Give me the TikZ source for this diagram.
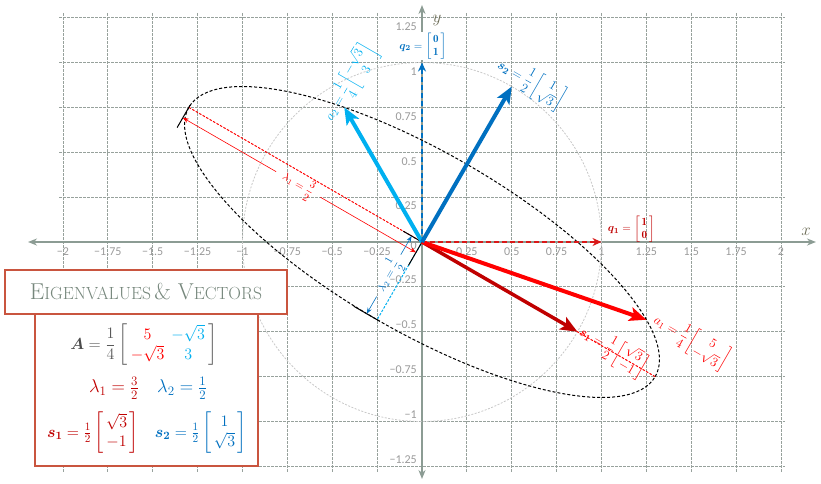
\RequirePackage{fix-cm}
\documentclass[tikz,border=0pt]{standalone}
\usepackage{amsmath}
\usepackage{bm}
\usepackage{fontspec}
\newfontfamily\tickfont{Carlito}
\usetikzlibrary{arrows.meta,calc}
\definecolor{cred}{HTML}{FF0000}
\definecolor{cqred}{HTML}{D91818}
\definecolor{cdred}{HTML}{C00000}
\definecolor{cblue}{HTML}{0070C0}
\definecolor{clblue}{HTML}{00B0F0}
\definecolor{caxis}{HTML}{8C9C94}
\definecolor{cgrid}{HTML}{97A19C}
\definecolor{ctick}{HTML}{9A9A9A}
\definecolor{ccirc}{HTML}{C8C8C8}
\definecolor{cborder}{HTML}{C9553F}
\definecolor{ctitle}{HTML}{76877C}
\definecolor{cgraytxt}{HTML}{595959}
\definecolor{caxlbl}{HTML}{6B6B55}
\newcommand{\cv}[2]{\left[\begin{array}{@{\,}c@{\,}}#1\\#2\end{array}\right]}
\newcommand{\tbigcap}[1]{{\fontsize{23}{26}\selectfont #1}}
\newcommand{\tsmcap}[1]{{\fontsize{17.6}{20}\selectfont #1}}
\tikzset{
 gridline/.style={cgrid, line width=0.9pt, dash pattern=on 2.5pt off 1.5pt},
 axisline/.style={caxis, line width=2pt, {Stealth[length=9pt,width=7pt]}-{Stealth[length=9pt,width=7pt]}},
 ticklbl/.style={text=ctick, font=\tickfont\fontsize{12}{14}\selectfont, inner sep=1pt},
 unitcirc/.style={ccirc, line width=0.8pt, dash pattern=on 2pt off 1.5pt},
 ellip/.style={black, line width=1pt, dash pattern=on 3pt off 2pt},
 axred/.style={cred, line width=1pt, dash pattern=on 2.5pt off 1.5pt},
 axblue/.style={clblue, line width=1pt, dash pattern=on 2.5pt off 1.5pt},
 dimred/.style={cred, line width=0.6pt, -{Stealth[length=6pt,width=4.5pt]}},
 dimblue/.style={cblue, line width=0.6pt, -{Stealth[length=6pt,width=4.5pt]}},
 extline/.style={black, line width=1pt},
 vec/.style={line width=4pt, -{Stealth[length=17pt,width=14pt,inset=4pt]}},
 qvec/.style={line width=2pt, dash pattern=on 5pt off 3pt, -{Stealth[length=9pt,width=8pt]}},
 vlbl/.style={font=\fontsize{13}{15}\selectfont, inner sep=0pt},
 dimlbl/.style={font=\fontsize{11}{13}\selectfont, inner sep=0pt},
 infobox/.style={draw=cborder, line width=2pt, fill=white, inner sep=0pt},
 boxtxt/.style={font=\fontsize{16}{19}\selectfont, inner sep=0pt},
}
\begin{document}
\begin{tikzpicture}[x=179.5pt,y=179.5pt]
\useasboundingbox (-422pt,-241pt) rectangle (399pt,242pt);
% grid
\foreach \i in {-8,...,8} \draw[gridline] (\i/4,-1.28) -- (\i/4,1.28);
\foreach \j in {-5,...,5} \draw[gridline] (-2.02,\j/4) -- (2.02,\j/4);
% axes
\coordinate (O) at (0,0);
\coordinate (XL) at (-394pt,0); \coordinate (XR) at (394pt,0);
\coordinate (YB) at (0,-237pt); \coordinate (YT) at (0,237pt);
\draw[axisline] (XL) -- (XR);
\draw[axisline] (YB) -- (YT);
\node[text=caxlbl, font=\fontsize{17}{20}\selectfont] (xlbl) at (384pt,10pt) {$x$};
\node[text=caxlbl, font=\fontsize{17}{20}\selectfont] (ylbl) at (15pt,222pt) {$y$};
% tick labels
\foreach \v/\t [count=\k] in {-2/−2,-1.75/−1.75,-1.5/−1.5,-1.25/−1.25,-1/−1,-0.75/−0.75,-0.5/−0.5,-0.25/−0.25,0.25/0.25,0.5/0.5,0.75/0.75,1/1,1.25/1.25,1.5/1.5,1.75/1.75,2/2}
  \node[ticklbl, anchor=north] (tx\k) at ([yshift=-5pt]\v,0) {\t};
\foreach \v/\t [count=\k] in {0.25/0.25,0.5/0.5,0.75/0.75,1/1,1.25/1.25}
  \node[ticklbl, anchor=east] (typ\k) at ([xshift=-4pt,yshift=-9pt]0,\v) {\t};
\foreach \v/\t [count=\k] in {-0.25/−0.25,-0.5/−0.5,-0.75/−0.75,-1/−1,-1.25/−1.25}
  \node[ticklbl, anchor=east] (tyn\k) at ([xshift=-4pt,yshift=7pt]0,\v) {\t};
\node[ticklbl, anchor=east] (t0) at ([xshift=-4pt,yshift=-4pt]0,0) {0};
% circle and ellipse
\draw[unitcirc] (O) circle [radius=1];
\draw[ellip, rotate=-30] (O) ellipse [x radius=1.5, y radius=0.5];
% principal axes
\coordinate (M1) at (150:1.5); \coordinate (M2) at (-30:1.5);
\coordinate (N1) at (60:0.5); \coordinate (N2) at (240:0.5);
\draw[axred] (M1) -- (M2);
\draw[axblue] (N1) -- (N2);
% extension lines
\coordinate (E1a) at ($(M1)+(60:0.015)$); \coordinate (E1b) at ($(M1)+(240:0.13)$);
\coordinate (E2b) at ($(O)+(240:0.15)$);
\coordinate (E3b) at ($(O)+(150:0.12)$);
\coordinate (E4a) at ($(N2)+(330:0.015)$); \coordinate (E4b) at ($(N2)+(150:0.15)$);
\draw[extline] (E1a) -- (E1b);
\draw[extline] (O) -- (E2b);
\draw[extline] (O) -- (E3b);
\draw[extline] (E4a) -- (E4b);
% dimension lambda1
\coordinate (P1) at ($(M1)+(240:0.067)$);
\coordinate (P2) at ($(O)+(240:0.067)$);
\coordinate (G1) at ($(P1)!0.40!(P2)$); \coordinate (G2) at ($(P1)!0.59!(P2)$);
\draw[dimred] (G1) -- (P1);
\draw[dimred] (G2) -- (P2);
\node[dimlbl, text=cred, rotate=-30] (l1) at ($(P1)!0.495!(P2)$) {$\lambda_1=\dfrac{3}{2}$};
% dimension lambda2
\coordinate (R1) at ($(O)+(150:0.067)$);
\coordinate (R2) at ($(N2)+(150:0.067)$);
\coordinate (H1) at ($(R1)!0.24!(R2)$); \coordinate (H2) at ($(R1)!0.78!(R2)$);
\draw[dimblue] (H1) -- (R1);
\draw[dimblue] (H2) -- (R2);
\node[dimlbl, text=cblue, rotate=60] (l2) at ($(R1)!0.51!(R2)$) {$\lambda_2=\dfrac{1}{2}$};
% vectors
\coordinate (Q1) at (1,0); \coordinate (Q2) at (0,1);
\coordinate (S1) at (-30:1); \coordinate (S2) at (60:1);
\coordinate (A1) at (1.25,-0.43301); \coordinate (A2) at (-0.43301,0.75);
\draw[qvec, cqred] (O) -- (Q1);
\draw[qvec, cblue] (O) -- (Q2);
\draw[vec, cdred, line width=3.5pt] (O) -- (S1);
\draw[vec, cred] (O) -- (A1);
\draw[vec, clblue] (O) -- (A2);
\draw[vec, cblue] (O) -- (S2);
% vector labels
\node[vlbl, text=cdred, anchor=west, font=\fontsize{11}{13}\selectfont] (lq1) at (1.035,0.072) {$\bm{q}_{\bm1}=\cv{\mathbf1}{\mathbf0}$};
\node[vlbl, text=cblue, fill=white, inner sep=1pt, font=\fontsize{11}{13}\selectfont] (lq2) at (0.005,1.09) {$\bm{q}_{\bm2}=\cv{\mathbf0}{\mathbf1}$};
\node[vlbl, text=cblue, rotate=-30] (ls2) at (0.607,0.886) {$\bm{s}_{\bm2}=\dfrac12\cv{1}{\sqrt3}$};
\node[vlbl, text=clblue, rotate=60] (la2) at (-0.401,0.886) {$a_2=\dfrac14\cv{-\sqrt3}{3}$};
\node[vlbl, text=cred, rotate=-30] (ls1) at (1.062,-0.605) {$\bm{s}_{\bm1}=\dfrac12\cv{\sqrt3}{-1}$};
\node[vlbl, text=cred, rotate=-30] (la1) at (1.50,-0.552) {$a_1=\dfrac14\cv{5}{-\sqrt3}$};
% info boxes
\node[infobox, minimum width=223pt, minimum height=152pt] (info) at (-275.5pt,-148pt) {};
\node[infobox, minimum width=282pt, minimum height=44pt, text=ctitle] (title) at (-276pt,-50pt)
  {\tbigcap{E}\tsmcap{IGENVALUES} \tbigcap{\& V}\tsmcap{ECTORS}};
\node[boxtxt, text=cgraytxt] (row1) at (-278pt,-103pt)
  {\setlength{\arraycolsep}{3.5pt}$\textcolor{black!70}{\bm{A}}=\dfrac14\left[\begin{array}{cc}\textcolor{cred}{5}&\textcolor{clblue}{-\sqrt3}\\ \textcolor{cred}{-\sqrt3}&\textcolor{clblue}{3}\end{array}\right]$};
\node[boxtxt, font=\fontsize{18.5}{21}\selectfont] (row2) at (-274pt,-146pt)
  {$\textcolor{cdred}{\lambda_1=\frac32}\quad\textcolor{cblue}{\lambda_2=\frac12}$};
\node[boxtxt] (row3) at (-275pt,-191pt)
  {$\textcolor{cdred}{\bm{s}_{\bm1}=\frac12\left[\begin{array}{@{\,}c@{\,}}\sqrt3\\-1\end{array}\right]}\quad\textcolor{cblue}{\bm{s}_{\bm2}=\frac12\left[\begin{array}{@{\,}c@{\,}}1\\\sqrt3\end{array}\right]}$};
\end{tikzpicture}
\end{document}
